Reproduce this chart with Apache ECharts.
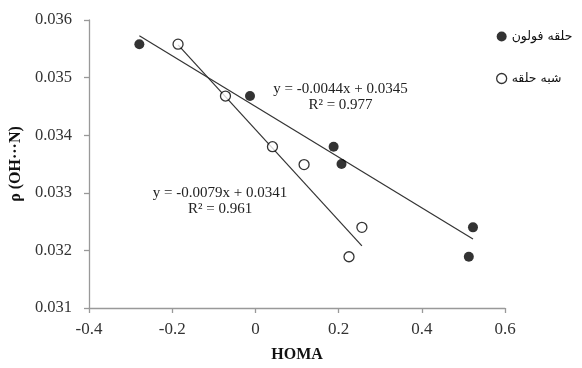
<!DOCTYPE html>
<html>
<head>
<meta charset="utf-8">
<script src="https://cdn.jsdelivr.net/npm/echarts@6/dist/echarts.min.js"></script>
<style>html,body{margin:0;padding:0;background:#fff}#c{width:582px;height:368px}</style>
</head>
<body>
<div id="c"></div>
<script>
// Data
var seriesNames = ['حلقه فولون', 'شبه حلقه'];
var fulX = [-0.279, -0.013, 0.188, 0.207, 0.523, 0.513];
var fulY = [0.03558, 0.03468, 0.0338, 0.0335, 0.0324, 0.03189];
var pseudoX = [-0.186, -0.072, 0.041, 0.117, 0.256, 0.225];
var pseudoY = [0.03558, 0.03468, 0.0338, 0.03349, 0.0324, 0.03189];
// Trendline coefficients printed on the chart
var fulSlope = -0.0044, fulIntercept = 0.0345, fulR2 = '0.977';
var pseudoSlope = -0.0079, pseudoIntercept = 0.0341, pseudoR2 = '0.961';
var xTicks = [-0.4, -0.2, 0, 0.2, 0.4, 0.6];
var yTicks = [0.031, 0.032, 0.033, 0.034, 0.035, 0.036];

var FONT = '"Liberation Serif", "Times New Roman", "DejaVu Sans", serif';

function pairs(xs, ys) { return xs.map(function (x, i) { return [x, ys[i]]; }); }
function trend(xs, m, b) {
  var lo = Math.min.apply(null, xs), hi = Math.max.apply(null, xs);
  return [[lo, m * lo + b], [hi, m * hi + b]];
}
function eqText(m, b, r2) {
  return 'y = ' + m.toFixed(4) + 'x + ' + b.toFixed(4) + '\nR² = ' + r2;
}

var chart = echarts.init(document.getElementById('c'), null, { renderer: 'canvas' });
chart.setOption({
  animation: false,
  backgroundColor: '#fff',
  textStyle: { fontFamily: FONT },
  grid: { left: 88, right: 77, top: 20, bottom: 51, containLabel: false },
  legend: {
    data: [
      { name: seriesNames[0], icon: 'circle', itemStyle: { color: '#000', borderWidth: 0 } },
      { name: seriesNames[1], icon: 'circle', itemStyle: { color: '#fff', borderColor: '#000', borderWidth: 1.3 } }
    ],
    orient: 'vertical',
    left: 491, top: 25,
    itemWidth: 10, itemHeight: 10, itemGap: 29,
    textStyle: { fontFamily: '"DejaVu Sans", sans-serif', fontSize: 12.5, color: '#111' }
  },
  xAxis: {
    type: 'value',
    min: xTicks[0], max: xTicks[xTicks.length - 1], interval: 0.2,
    name: 'HOMA', nameLocation: 'middle', nameGap: 39,
    nameTextStyle: { fontFamily: FONT, fontWeight: 'bold', fontSize: 16, color: '#111' },
    axisLine: { onZero: false, lineStyle: { color: '#999', width: 1.3 } },
    axisTick: { show: true, length: 5, lineStyle: { color: '#999', width: 1.3 } },
    axisLabel: { fontFamily: FONT, fontSize: 17, color: '#333', margin: 13,
      formatter: function (v) { return String(Math.round(v * 10) / 10); } },
    splitLine: { show: false }
  },
  yAxis: {
    type: 'value',
    min: yTicks[0], max: yTicks[yTicks.length - 1], interval: 0.001,
    name: 'ρ (OH···N)', nameLocation: 'middle', nameGap: 63, nameRotate: 90,
    nameTextStyle: { fontFamily: FONT, fontWeight: 'bold', fontSize: 16, color: '#111' },
    axisLine: { show: true, onZero: false, lineStyle: { color: '#999', width: 1.3 } },
    axisTick: { show: true, length: 5, lineStyle: { color: '#999', width: 1.3 } },
    axisLabel: { fontFamily: FONT, fontSize: 16.5, color: '#333', margin: 17,
      formatter: function (v) { return (Math.round(v * 1000) / 1000).toFixed(3); } },
    splitLine: { show: false }
  },
  series: [
    {
      name: seriesNames[0] + ' trend', type: 'line', silent: true, symbol: 'none',
      data: trend(fulX, fulSlope, fulIntercept),
      lineStyle: { color: '#333', width: 1.2 }, z: 1,
      markPoint: {
        symbolSize: 0, silent: true,
        data: [{ coord: [0.2045, 0.034662], value: 0 }],
        label: { show: true, position: 'inside', formatter: eqText(fulSlope, fulIntercept, fulR2),
          fontFamily: FONT, fontSize: 15, lineHeight: 16, color: '#222', align: 'center' }
      }
    },
    {
      name: seriesNames[1] + ' trend', type: 'line', silent: true, symbol: 'none',
      data: trend(pseudoX, pseudoSlope, pseudoIntercept),
      lineStyle: { color: '#333', width: 1.2 }, z: 1,
      markPoint: {
        symbolSize: 0, silent: true,
        data: [{ coord: [-0.085, 0.032852], value: 0 }],
        label: { show: true, position: 'inside', formatter: eqText(pseudoSlope, pseudoIntercept, pseudoR2),
          fontFamily: FONT, fontSize: 15, lineHeight: 16, color: '#222', align: 'center' }
      }
    },
    {
      name: seriesNames[0], type: 'scatter', symbol: 'circle', symbolSize: 10,
      data: pairs(fulX, fulY),
      itemStyle: { color: '#000', borderWidth: 0 }, z: 3
    },
    {
      name: seriesNames[1], type: 'scatter', symbol: 'circle', symbolSize: 10,
      data: pairs(pseudoX, pseudoY),
      itemStyle: { color: '#fff', borderColor: '#000', borderWidth: 1.3 }, z: 3
    }
  ]
});
</script>
</body>
</html>
